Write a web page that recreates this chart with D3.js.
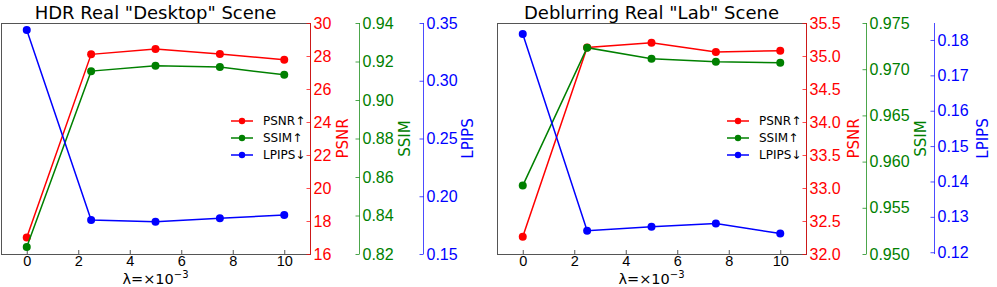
<!DOCTYPE html>
<html>
<head>
<meta charset="utf-8">
<script src="https://cdn.jsdelivr.net/npm/d3@7"></script>
<style>
  body { margin: 0; background: #fff; }
  svg { display: block; font-family: "DejaVu Sans", sans-serif; }
</style>
</head>
<body>
<svg id="chart"></svg>
<script>
// lambda values (x10^-3)
const lambdas = [0, 2.5, 5, 7.5, 10];
const xTicks = [0, 2, 4, 6, 8, 10];

// HDR real "Desktop" scene
const desktopPsnr = [17.0, 28.1, 28.42, 28.12, 27.78];
const desktopSsim = [0.8236, 0.915, 0.9178, 0.9171, 0.9131];
const desktopLpips = [0.344, 0.1794, 0.178, 0.1809, 0.1838];
const desktopPsnrTicks = [16, 18, 20, 22, 24, 26, 28, 30];
const desktopSsimTicks = [0.82, 0.84, 0.86, 0.88, 0.90, 0.92, 0.94];
const desktopLpipsTicks = [0.15, 0.20, 0.25, 0.30, 0.35];

// Deblurring real "Lab" scene
const labPsnr = [32.26, 35.13, 35.20, 35.06, 35.08];
const labSsim = [0.9574, 0.97233, 0.97114, 0.97081, 0.9707];
const labLpips = [0.1817, 0.1261, 0.1272, 0.1281, 0.1253];
const labPsnrTicks = [32.0, 32.5, 33.0, 33.5, 34.0, 34.5, 35.0, 35.5];
const labSsimTicks = [0.950, 0.955, 0.960, 0.965, 0.970, 0.975];
const labLpipsTicks = [0.12, 0.13, 0.14, 0.15, 0.16, 0.17, 0.18];

const legendLabels = ["PSNR\u2191", "SSIM\u2191", "LPIPS\u2193"];
const colors = ["#ff0000", "#008000", "#0000ff"];

const svg = d3.select("#chart").attr("width", 997).attr("height", 287);

function drawPanel(cfg) {
  const g = svg.append("g").attr("transform", `translate(${cfg.left},0)`);
  const top = 23, bottom = 254, w = 309;

  const x = d3.scaleLinear().domain([-1, 11]).range([0, w]);
  const yP = d3.scaleLinear().domain(cfg.psnrDomain).range([bottom, top]);
  const yS = d3.scaleLinear().domain(cfg.ssimDomain).range([bottom, top]);
  const yL = d3.scaleLinear().domain(cfg.lpipsDomain).range([bottom, top]);

  // frame
  g.append("rect").attr("x", 0.5).attr("y", top + 0.5)
    .attr("width", w).attr("height", bottom - top)
    .attr("fill", "none").attr("stroke", "#555");

  // x axis
  const xa = g.append("g").attr("transform", `translate(0,${bottom})`)
    .call(d3.axisBottom(x).tickValues(xTicks).tickSize(-4).tickPadding(2).tickFormat(d3.format("d")));
  xa.select(".domain").remove();
  xa.selectAll("line").attr("stroke", "#555");
  xa.selectAll("text").attr("font-size", 14.5).attr("fill", "#000");

  g.append("text").attr("x", w / 2).attr("y", 284)
    .attr("text-anchor", "middle").attr("font-size", 14.5)
    .text("\u03bb=\u00d710")
    .append("tspan").attr("dy", -6).attr("font-size", 10).text("\u22123");

  // title
  g.append("text").attr("x", w / 2).attr("y", 19)
    .attr("text-anchor", "middle").attr("font-size", 18).text(cfg.title);

  // right axes
  const axes = [
    { scale: yP, ticks: cfg.psnrTicks, fmt: cfg.psnrFmt, pos: w + 0.5, label: "PSNR", lx: cfg.psnrLabelX },
    { scale: yS, ticks: cfg.ssimTicks, fmt: cfg.ssimFmt, pos: cfg.ssimX, label: "SSIM", lx: cfg.ssimLabelX },
    { scale: yL, ticks: cfg.lpipsTicks, fmt: cfg.lpipsFmt, pos: cfg.lpipsX, label: "LPIPS", lx: cfg.lpipsLabelX }
  ];
  axes.forEach((a, i) => {
    const ag = g.append("g").attr("transform", `translate(${a.pos},0)`)
      .call(d3.axisRight(a.scale).tickValues(a.ticks).tickSize(-4).tickPadding(3).tickFormat(d3.format(a.fmt)));
    ag.select(".domain").attr("d", `M0,${top}V${bottom}`).attr("stroke", colors[i]).attr("stroke-opacity", 0.7);
    ag.selectAll("line").attr("stroke", colors[i]).attr("stroke-opacity", 0.7);
    ag.selectAll("text").attr("font-size", 16).attr("fill", colors[i]);
    g.append("text")
      .attr("transform", `translate(${a.lx},${(top + bottom) / 2}) rotate(-90)`)
      .attr("text-anchor", "middle").attr("dy", "0.35em")
      .attr("font-size", 15).attr("fill", colors[i]).text(a.label);
  });

  // series
  const series = [
    { vals: cfg.psnr, y: yP },
    { vals: cfg.ssim, y: yS },
    { vals: cfg.lpips, y: yL }
  ];
  series.forEach((s, i) => {
    const pts = lambdas.map((l, j) => [l, s.vals[j]]);
    g.append("path").datum(pts)
      .attr("fill", "none").attr("stroke", colors[i]).attr("stroke-width", 1.5)
      .attr("d", d3.line().x(d => x(d[0])).y(d => s.y(d[1])));
    g.selectAll(null).data(pts).enter().append("circle")
      .attr("cx", d => x(d[0])).attr("cy", d => s.y(d[1]))
      .attr("r", 4).attr("fill", colors[i]);
  });

  // legend
  const lg = g.append("g").attr("transform", "translate(230,121)");
  legendLabels.forEach((lab, i) => {
    const row = lg.append("g").attr("transform", `translate(0,${i * 17})`);
    row.append("line").attr("x1", 0).attr("x2", 22).attr("stroke", colors[i]).attr("stroke-width", 1.5);
    row.append("circle").attr("cx", 11).attr("r", 3.2).attr("fill", colors[i]);
    row.append("text").attr("x", 32).attr("dy", "0.35em").attr("font-size", 12).text(lab);
  });
}

drawPanel({
  left: 1,
  title: "HDR Real \"Desktop\" Scene",
  psnr: desktopPsnr, ssim: desktopSsim, lpips: desktopLpips,
  psnrDomain: [16, 30], ssimDomain: [0.82, 0.94], lpipsDomain: [0.15, 0.35],
  psnrTicks: desktopPsnrTicks, ssimTicks: desktopSsimTicks, lpipsTicks: desktopLpipsTicks,
  psnrFmt: "d", ssimFmt: ".2f", lpipsFmt: ".2f",
  ssimX: 358.5, lpipsX: 422.5,
  psnrLabelX: 342, ssimLabelX: 404, lpipsLabelX: 467
});

drawPanel({
  left: 497,
  title: "Deblurring Real \"Lab\" Scene",
  psnr: labPsnr, ssim: labSsim, lpips: labLpips,
  psnrDomain: [32, 35.5], ssimDomain: [0.95, 0.975], lpipsDomain: [0.1195, 0.1848],
  psnrTicks: labPsnrTicks, ssimTicks: labSsimTicks, lpipsTicks: labLpipsTicks,
  psnrFmt: ".1f", ssimFmt: ".3f", lpipsFmt: ".2f",
  ssimX: 369.5, lpipsX: 437.5,
  psnrLabelX: 357, ssimLabelX: 424, lpipsLabelX: 486
});
</script>
</body>
</html>
